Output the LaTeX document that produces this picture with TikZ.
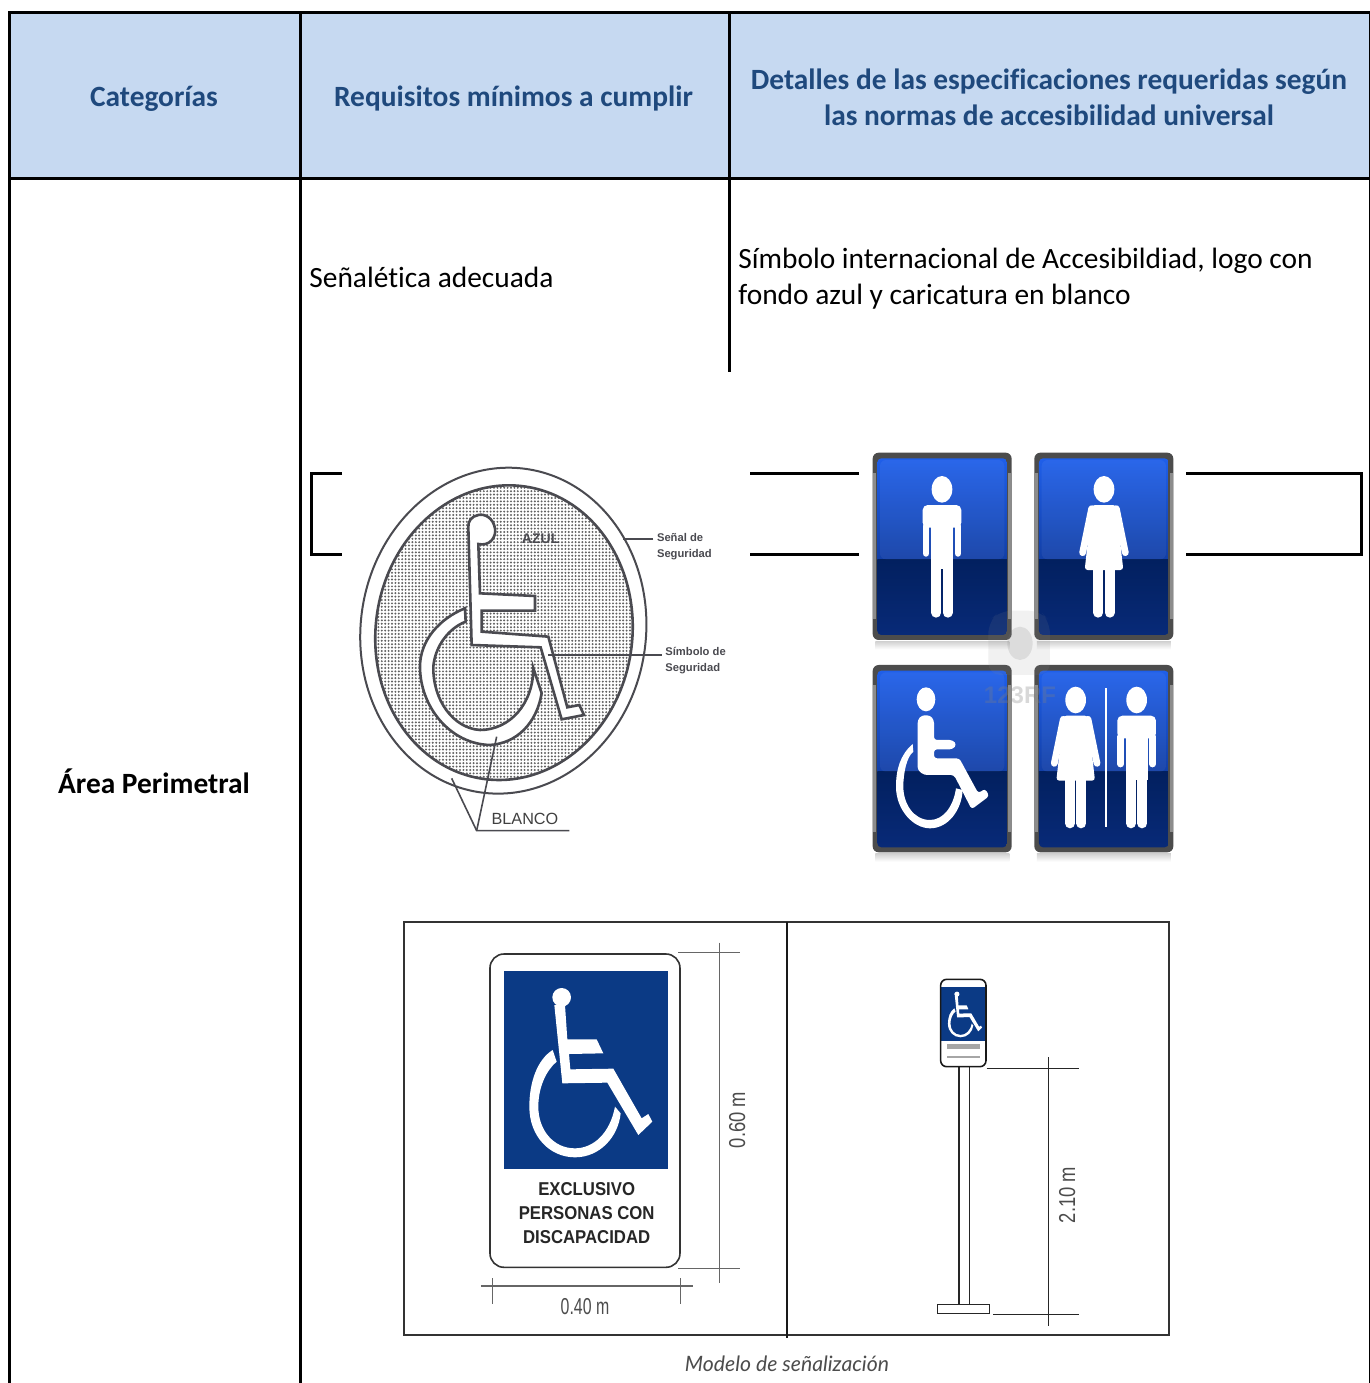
\documentclass[tikz,border=0pt]{standalone}
\usepackage{fontspec}
\usepackage{graphicx}
\setmainfont{Carlito}[Ligatures=CommonOff]
\newfontfamily\arialf{Liberation Sans}
\newfontfamily\latof{Lato}
\usetikzlibrary{patterns}
\pgfdeclarepatternformonly{finedots}{\pgfqpoint{-0.5pt}{-0.5pt}}{\pgfqpoint{1.5pt}{1.5pt}}{\pgfqpoint{1.7pt}{1.7pt}}{\pgfpathcircle{\pgfqpoint{0.5pt}{0.5pt}}{0.55pt}\pgfusepath{fill}}
\definecolor{headfill}{HTML}{C6D9F1}
\definecolor{headtext}{HTML}{1F497D}
\definecolor{modelblue}{HTML}{0B3A85}
\definecolor{inkgray}{HTML}{4A4A50}
\definecolor{signA}{HTML}{1F5FEA}
\definecolor{signB}{HTML}{123FA6}
\definecolor{signC}{HTML}{02205F}
\definecolor{signD}{HTML}{082A78}
\tikzset{
  rule/.style={line width=1.5pt,black},
  headlabel/.style={font=\fontsize{14.7}{18}\selectfont\bfseries,text=headtext,align=center,inner sep=0pt},
  bodylabel/.style={font=\fontsize{14.7}{18}\selectfont,align=left,anchor=west,inner sep=0pt},
  ink/.style={draw=inkgray,line width=1pt},
  dim/.style={draw=black!60,line width=0.7pt},
  limb/.style={white,line width=3.4pt,line cap=round},
  legbar/.style={white,line width=5pt,line cap=round},
  small/.style={font=\arialf\fontsize{5.6}{8.2}\selectfont\bfseries,text=inkgray,align=left,anchor=west,inner sep=0pt},
  narrowdim/.style={font=\arialf\fontsize{11.5}{12}\selectfont,text=black!70,inner sep=0pt},
  signtxt/.style={font=\arialf\fontsize{9.3}{12}\selectfont\bfseries,text=black!85,align=center,inner sep=0pt},
}
% blue sign, zoom units, top-left corner at (#1,#2)
\newcommand{\signbox}[2]{%
  \begin{scope}[shift={(#1,#2)}]
    \shade[top color=black!18,bottom color=white] (8,566) rectangle (410,590);
    \fill[black!70,rounded corners=3pt] (0,0) rectangle (417,562);
    \fill[black!45] (2,60) rectangle (10,500);
    \fill[black!45] (407,60) rectangle (415,500);
    \begin{scope}
      \clip[rounded corners=2pt] (14,17) rectangle (403,547);
      \shade[top color=signA,bottom color=signB] (14,17) rectangle (403,320);
      \shade[top color=signC,bottom color=signD] (14,320) rectangle (403,547);
      \fill[white,opacity=.05,rounded corners=3pt] (22,22) rectangle (395,320);
    \end{scope}
  \end{scope}}
\newcommand{\manfig}[2]{%
  \begin{scope}[shift={(#1,#2)}]
    \fill[white] (0,0) ellipse [x radius=31,y radius=40];
    \fill[white,rounded corners=2.5pt] (-58,115) -- (-58,47) -- (58,47) -- (58,115) -- cycle;
    \draw[limb] (-48,110) -- (-48,192);
    \draw[limb] (48,110) -- (48,192);
    \fill[white] (-33,80) rectangle (33,240);
    \draw[legbar] (-17,235) -- (-17,370);
    \draw[legbar] (17,235) -- (17,370);
  \end{scope}}
\newcommand{\womanfig}[2]{%
  \begin{scope}[shift={(#1,#2)}]
    \fill[white] (0,0) ellipse [x radius=31,y radius=40];
    \fill[white,rounded corners=1.5pt] (-36,47) -- (36,47) -- (58,242) -- (-58,242) -- cycle;
    \draw[limb] (-37,58) -- (-64,190);
    \draw[limb] (37,58) -- (64,190);
    \draw[legbar] (-17,235) -- (-17,370);
    \draw[legbar] (17,235) -- (17,370);
  \end{scope}}
\newcommand{\chairfig}{%
  \fill[white] (228,778) ellipse [x radius=28,y radius=36];
  \fill[white,rounded corners=1.5pt] (203,840) -- (215,826) -- (240,826) -- (252,840) -- (252,900) -- (308,900) -- (320,914) -- (308,928) -- (252,928) -- (252,955) -- (328,955) -- (385,1060) -- (405,1046) -- (418,1068) -- (365,1108) -- (312,1005) -- (222,1005) -- (203,990) -- cycle;
  \fill[white] (188,912) .. controls (150,945) and (138,990) .. (138,1040) .. controls (138,1110) and (190,1165) .. (240,1165) .. controls (295,1165) and (335,1110) .. (338,1050) -- (318,1045) .. controls (310,1100) and (280,1140) .. (240,1140) .. controls (190,1140) and (160,1090) .. (160,1040) .. controls (160,1000) and (170,950) .. (190,935) -- cycle;}
\newcommand{\modelchair}{%
  \fill[white] (485,262) circle [radius=28];
  \fill[white] (463,285) -- (487,520) -- (622,518) -- (715,675) -- (757,635) -- (745,612) -- (725,625) -- (640,476) -- (511,478) -- (507,432) -- (610,430) -- (590,388) -- (502,388) -- (495,285) -- cycle;
  \fill[white] (458,420) .. controls (410,450) and (388,520) .. (388,590) .. controls (388,680) and (450,742) .. (525,742) .. controls (600,742) and (655,680) .. (662,610) -- (645,590) .. controls (630,670) and (580,715) .. (525,715) .. controls (460,715) and (415,660) .. (415,590) .. controls (415,530) and (440,480) .. (470,455) -- cycle;}
\begin{document}
\begin{tikzpicture}[x=0.5pt,y=-0.5pt]
\path[use as bounding box,fill=white] (0,0) rectangle (1370,1383);
% table
\fill[headfill] (9,12) rectangle (1369,178);
\draw[rule] (9,1383) -- (9,12) -- (1369.5,12);
\draw[line width=.6pt,black] (1369.5,12) -- (1369.5,1383);
\draw[rule] (9,178) -- (1369.5,178);
\draw[rule] (300,12) -- (300,1383);
\draw[rule] (729,12) -- (729,372);
\node[headlabel,anchor=base] (hcat) at (154,106) {Categorías};
\node[headlabel,anchor=base] (hreq) at (513.5,106) {Requisitos mínimos a cumplir};
\node[headlabel] (hdet) at (1049,97) {Detalles de las especificaciones requeridas según\\las normas de accesibilidad universal};
\node[bodylabel] (treq) at (309,277) {Señalética adecuada};
\node[bodylabel] (tdet) at (738,278.5) {Símbolo internacional de Accesibildiad, logo con\\fondo azul y caricatura en blanco};
\node[font=\fontsize{14.7}{18}\selectfont\bfseries,inner sep=0pt] (tarea) at (154,781) {Área Perimetral};
% leftovers of an inner table
\draw[rule] (342,473) -- (311,473) -- (311,554) -- (342,554);
\draw[rule] (750,473) -- (859,473);
\draw[rule] (750,554) -- (859,554);
\draw[rule] (1186,473) -- (1361,473) -- (1361,554) -- (1186,554);
% round sign, zoom units
\begin{scope}[shift={(300,440)},x=0.5pt/3,y=-0.5pt/3]
  \draw[ink,rotate around={-8:(610,572)}] (610,572) ellipse [x radius=428,y radius=490];
  \path[rotate around={-8:(612,578)},pattern=finedots,pattern color=black!62] (612,578) ellipse [x radius=385,y radius=443];
  \draw[ink,line width=1.3pt,rotate around={-8:(612,578)}] (612,578) ellipse [x radius=385,y radius=443];
  \fill[white,draw=inkgray,line width=1.3pt] (505,262) -- (515,615) -- (722,622) -- (785,838) -- (852,825) -- (838,795) -- (802,802) -- (745,590) -- (545,575) -- (545,512) -- (705,512) -- (705,468) -- (540,460) -- (535,312) .. controls (570,320) and (590,290) .. (585,265) .. controls (580,235) and (555,220) .. (535,225) .. controls (515,228) and (503,245) .. (505,262) -- cycle;
  \fill[white,draw=inkgray,line width=1.3pt] (495,505) .. controls (420,535) and (360,600) .. (360,680) .. controls (360,800) and (450,912) .. (570,915) .. controls (650,910) and (710,850) .. (725,760) -- (700,685) .. controls (700,790) and (630,870) .. (540,870) .. controls (460,865) and (398,780) .. (400,680) .. controls (405,620) and (445,565) .. (497,545) -- cycle;
  \node[font=\arialf\fontsize{7}{8}\selectfont\bfseries,text=inkgray,inner sep=0pt] (azul) at (722,297) {AZUL};
  \node[small] (senal) at (1070,320) {Señal de\\Seguridad};
  \node[small] (simb) at (1095,662) {Símbolo de\\Seguridad};
  \coordinate (senalp) at (970,297);
  \coordinate (simbp) at (745,645);
  \coordinate (leaderA) at (1060,297);
  \coordinate (leaderB) at (1085,645);
  \draw[draw=inkgray,line width=.8pt] (leaderA) -- (senalp);
  \draw[draw=inkgray,line width=.8pt] (leaderB) -- (simbp);
  \node[font=\arialf\fontsize{8.1}{10}\selectfont,text=black!75,inner sep=0pt] (blanco) at (675,1137) {BLANCO};
  \coordinate (bjoin) at (530,1172);
  \coordinate (bend) at (808,1172);
  \coordinate (bup1) at (455,1015);
  \coordinate (bup2) at (590,890);
  \draw[draw=inkgray,line width=.8pt] (bend) -- (bjoin) -- (bup1);
  \draw[draw=inkgray,line width=.8pt] (bjoin) -- (bup2);
\end{scope}
% blue signs, zoom units
\begin{scope}[shift={(850,440)},x=0.5pt/3,y=-0.5pt/3]
  \signbox{68}{38}
  \signbox{553}{38}
  \signbox{68}{675}
  \signbox{553}{675}
  \manfig{276}{148}
  \womanfig{762}{148}
  \chairfig
  \womanfig{677}{780}
  \manfig{860}{780}
  \fill[white] (766,743) rectangle (772,1162);
  % faint stock-photo watermark
  \fill[black!45,opacity=.12,rounded corners=6pt] (415,545) -- (450,512) -- (570,512) -- (600,545) -- (600,705) -- (415,705) -- cycle;
  \fill[black!55,opacity=.16] (510,610) ellipse [x radius=38,y radius=50];
  \node[font=\arialf\fontsize{12}{14}\selectfont\bfseries,text=black!50,opacity=.3,inner sep=0pt] (wm) at (510,765) {123RF};
\end{scope}
% model panel
\draw[draw=black!80,line width=.8pt] (404,922) rectangle (1169,1335);
\draw[draw=black!90,line width=.7pt] (787,922) -- (787,1338);
\begin{scope}[shift={(400,910)},x=0.5pt/3,y=-0.5pt/3]
  \draw[black!80,line width=.8pt,rounded corners=7pt] (270,132) rectangle (840,1072);
  \fill[modelblue] (313,183) rectangle (803,778);
  \modelchair
  \coordinate (d1a) at (835,127); \coordinate (d1b) at (1020,127);
  \coordinate (d2a) at (835,1075); \coordinate (d2b) at (1020,1075);
  \coordinate (d3a) at (958,98); \coordinate (d3b) at (958,1118);
  \coordinate (d4a) at (243,1128); \coordinate (d4b) at (878,1128);
  \coordinate (d5a) at (277,1105); \coordinate (d5b) at (277,1183);
  \coordinate (d6a) at (842,1105); \coordinate (d6b) at (842,1183);
  \draw[dim] (d1a) -- (d1b);
  \draw[dim] (d2a) -- (d2b);
  \draw[dim] (d3a) -- (d3b);
  \draw[dim] (d4a) -- (d4b);
  \draw[dim] (d5a) -- (d5b);
  \draw[dim] (d6a) -- (d6b);
  \node[signtxt,xscale=.9,transform shape] (ex1) at (560,836) {EXCLUSIVO};
  \node[signtxt,xscale=.9,transform shape] (ex2) at (560,908) {PERSONAS CON};
  \node[signtxt,xscale=.9,transform shape] (ex3) at (560,980) {DISCAPACIDAD};
  \node[narrowdim,xscale=.69,transform shape] (w40) at (555,1190) {0.40 m};
  \node[narrowdim,yscale=.8,rotate=90,transform shape] (h60) at (1012,630) {0.60 m};
\end{scope}
\begin{scope}[shift={(790,910)},x=0.5pt/3,y=-0.5pt/3]
  \draw[black!85,line width=.75pt] (507,470) -- (507,1183);
  \draw[black!85,line width=.75pt] (538,470) -- (538,1183);
  \draw[black!85,line width=.75pt] (443,1183) rectangle (598,1210);
  \fill[modelblue] (452,232) rectangle (588,392);
  \draw[black!90,line width=.8pt,rounded corners=3pt] (452,208) rectangle (588,470);
  \fill[black!35] (470,402) rectangle (570,416);
  \fill[black!35] (470,437) rectangle (570,445);
  \coordinate (p1a) at (590,475); \coordinate (p1b) at (867,475);
  \coordinate (p2a) at (610,1214); \coordinate (p2b) at (867,1214);
  \coordinate (p3a) at (775,442); \coordinate (p3b) at (775,1247);
  \draw[black!85,line width=.7pt] (p1a) -- (p1b);
  \draw[black!85,line width=.7pt] (p2a) -- (p2b);
  \draw[black!85,line width=.7pt] (p3a) -- (p3b);
  \node[narrowdim,yscale=.8,rotate=90,transform shape] (h210) at (832,855) {2.10 m};
\end{scope}
\begin{scope}[shift={(941,987)},x=0.5pt*.0925,y=-0.5pt*.09,shift={(-313,-183)}]
  \modelchair
\end{scope}
\node[font=\latof\itshape\fontsize{10.6}{12}\selectfont,text=black!70,inner sep=0pt] (cap) at (787,1364) {Modelo de señalización};
\end{tikzpicture}
\end{document}
